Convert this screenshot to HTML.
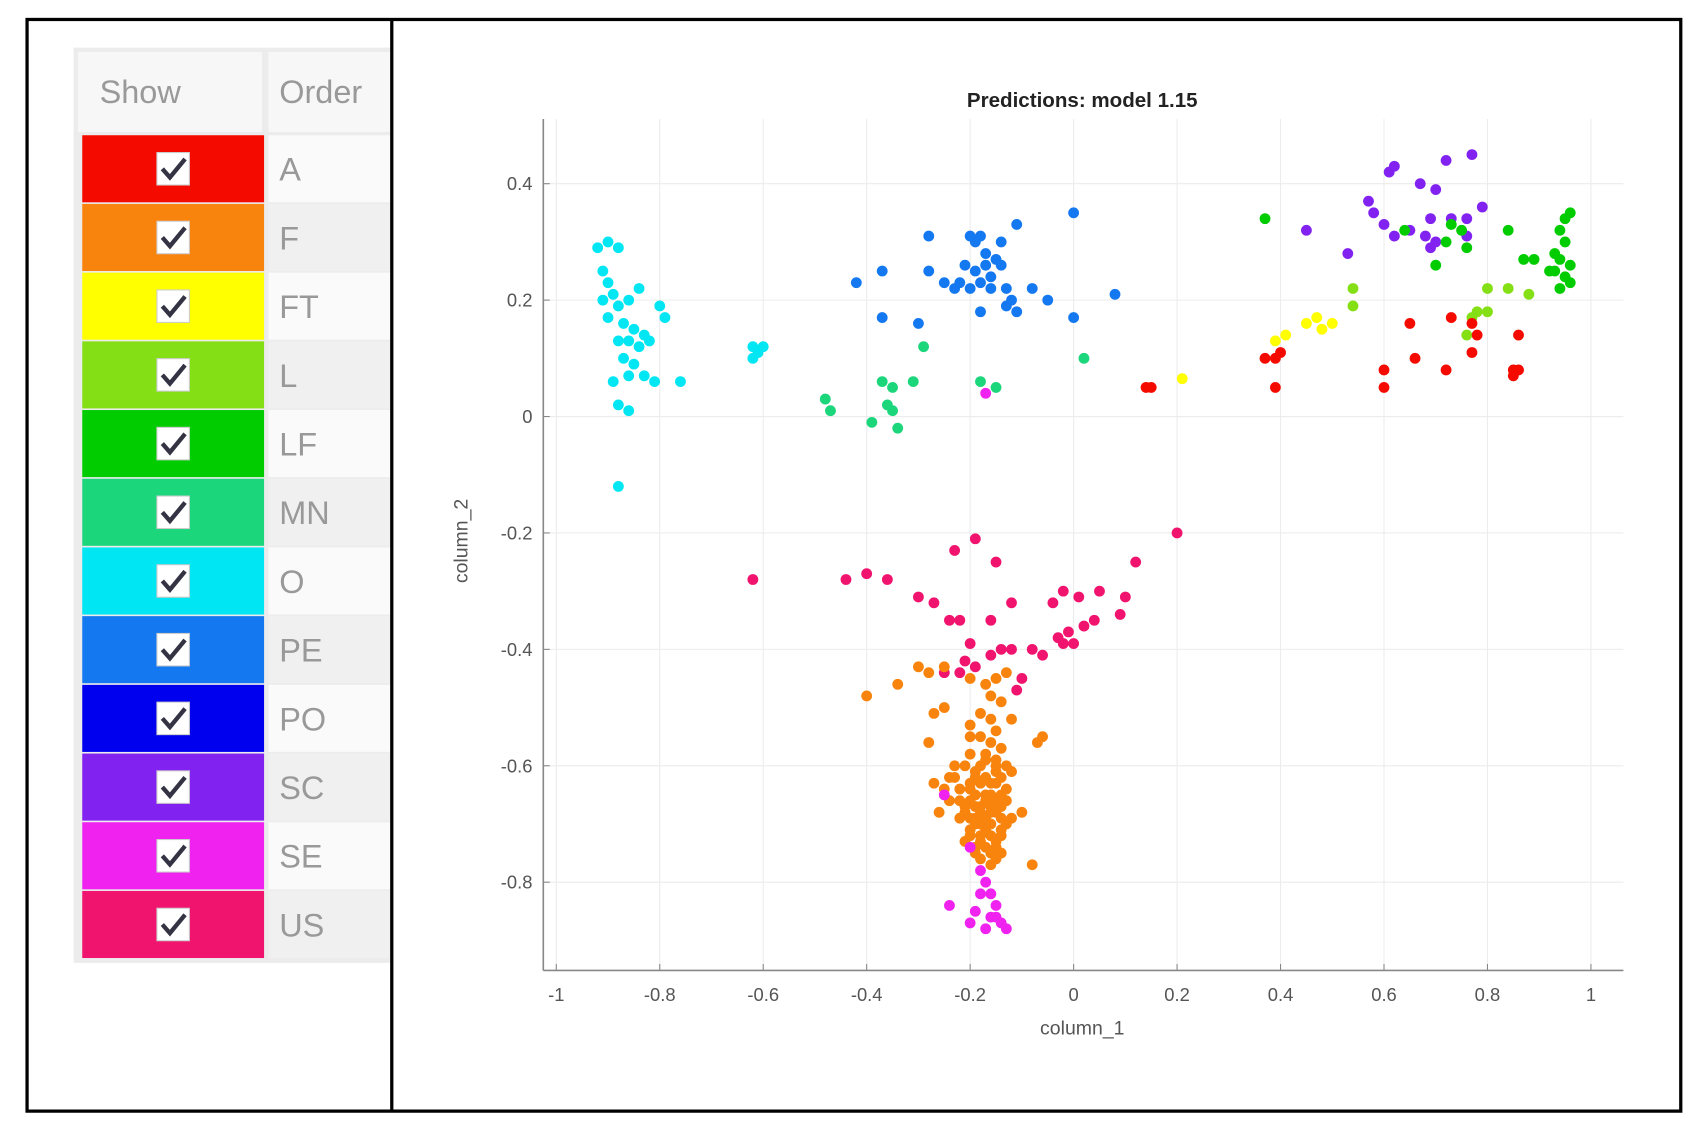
<!DOCTYPE html>
<html><head><meta charset="utf-8"><style>
html,body{margin:0;padding:0;background:#fff;}
svg{display:block;}
text{font-family:"Liberation Sans",sans-serif;}
</style></head><body>
<svg id="s" width="1697" height="1136" viewBox="0 0 1568 1050" preserveAspectRatio="none" xmlns="http://www.w3.org/2000/svg">
<rect x="0" y="0" width="1568" height="1050" fill="#fff"/>
<g id="table">
<rect x="68" y="44" width="294" height="846" fill="#ececec"/>
<rect x="72" y="48" width="170" height="74" fill="#f7f7f7"/>
<rect x="248" y="48" width="114" height="74" fill="#f7f7f7"/>
<text x="92" y="95" font-size="30" fill="#999">Show</text>
<text x="258" y="95" font-size="30" fill="#999">Order</text>
</g>
<rect x="362" y="40" width="4" height="860" fill="#fff"/>
<g id="plot"></g>
<rect x="25" y="18" width="1528" height="1009" fill="none" stroke="#000" stroke-width="3"/>
<line x1="362" y1="18" x2="362" y2="1027" stroke="#000" stroke-width="3"/>
</svg>
<script>
const classNames=["A","F","FT","L","LF","MN","O","PE","PO","SC","SE","US"];
const classColors=["#f50a00","#f8840e","#ffff00","#84e014","#00cc00","#1cd67c","#00e6f2","#1478f0","#0000ee","#8222f0","#f022f0","#f0146e"];
const xTicks=[-1,-0.8,-0.6,-0.4,-0.2,0,0.2,0.4,0.6,0.8,1];
const yTicks=[0.4,0.2,0,-0.2,-0.4,-0.6,-0.8];
const xTickLabels=["-1","-0.8","-0.6","-0.4","-0.2","0","0.2","0.4","0.6","0.8","1"];
const yTickLabels=["0.4","0.2","0","-0.2","-0.4","-0.6","-0.8"];
const ptsO=[[-0.92,0.29],[-0.9,0.3],[-0.88,0.29],[-0.91,0.25],[-0.9,0.23],[-0.89,0.21],[-0.91,0.2],[-0.88,0.19],[-0.86,0.2],[-0.84,0.22],[-0.87,0.16],[-0.85,0.15],[-0.83,0.14],[-0.8,0.19],[-0.79,0.17],[-0.86,0.13],[-0.84,0.12],[-0.82,0.13],[-0.88,0.13],[-0.87,0.1],[-0.89,0.06],[-0.86,0.07],[-0.83,0.07],[-0.81,0.06],[-0.76,0.06],[-0.88,0.02],[-0.86,0.01],[-0.88,-0.12],[-0.62,0.12],[-0.61,0.11],[-0.62,0.1],[-0.6,0.12],[-0.9,0.17],[-0.85,0.09]];
const ptsPE=[[-0.2,0.31],[-0.19,0.3],[-0.18,0.31],[-0.28,0.31],[-0.14,0.3],[-0.11,0.33],[0,0.35],[-0.21,0.26],[-0.19,0.25],[-0.17,0.26],[-0.16,0.24],[-0.15,0.27],[-0.22,0.23],[-0.2,0.22],[-0.18,0.23],[-0.23,0.22],[-0.16,0.22],[-0.13,0.22],[-0.28,0.25],[-0.25,0.23],[-0.42,0.23],[-0.37,0.25],[-0.08,0.22],[-0.12,0.2],[-0.05,0.2],[0.08,0.21],[-0.18,0.18],[-0.13,0.19],[-0.11,0.18],[-0.37,0.17],[-0.3,0.16],[0,0.17],[-0.14,0.26],[-0.17,0.28]];
const ptsA=[[0.14,0.05],[0.15,0.05],[0.37,0.1],[0.39,0.1],[0.4,0.11],[0.39,0.05],[0.6,0.05],[0.6,0.08],[0.66,0.1],[0.65,0.16],[0.72,0.08],[0.73,0.17],[0.77,0.11],[0.77,0.16],[0.78,0.14],[0.85,0.08],[0.85,0.07],[0.86,0.08],[0.86,0.14]];
const ptsSC=[[0.61,0.42],[0.62,0.43],[0.72,0.44],[0.77,0.45],[0.67,0.4],[0.7,0.39],[0.57,0.37],[0.58,0.35],[0.79,0.36],[0.6,0.33],[0.65,0.32],[0.69,0.34],[0.73,0.34],[0.76,0.34],[0.62,0.31],[0.68,0.31],[0.7,0.3],[0.69,0.29],[0.76,0.31],[0.45,0.32],[0.53,0.28]];
const ptsLF=[[0.37,0.34],[0.64,0.32],[0.73,0.33],[0.75,0.32],[0.72,0.3],[0.76,0.29],[0.84,0.32],[0.7,0.26],[0.87,0.27],[0.89,0.27],[0.93,0.28],[0.95,0.3],[0.96,0.35],[0.95,0.34],[0.94,0.32],[0.94,0.27],[0.93,0.25],[0.95,0.24],[0.96,0.23],[0.94,0.22],[0.92,0.25],[0.96,0.26]];
const ptsL=[[0.8,0.22],[0.84,0.22],[0.88,0.21],[0.78,0.18],[0.8,0.18],[0.77,0.17],[0.76,0.14],[0.54,0.22],[0.54,0.19]];
const ptsFT=[[0.39,0.13],[0.41,0.14],[0.45,0.16],[0.47,0.17],[0.48,0.15],[0.5,0.16],[0.21,0.065]];
const ptsMN=[[-0.29,0.12],[-0.37,0.06],[-0.35,0.05],[-0.31,0.06],[-0.36,0.02],[-0.35,0.01],[-0.48,0.03],[-0.47,0.01],[-0.39,-0.01],[-0.34,-0.02],[-0.18,0.06],[-0.15,0.05],[0.02,0.1]];
const ptsUS=[[0.2,-0.2],[-0.19,-0.21],[-0.23,-0.23],[-0.15,-0.25],[-0.62,-0.28],[-0.44,-0.28],[-0.4,-0.27],[-0.36,-0.28],[-0.3,-0.31],[-0.27,-0.32],[-0.24,-0.35],[-0.22,-0.35],[-0.16,-0.35],[-0.12,-0.32],[-0.04,-0.32],[-0.02,-0.3],[0.01,-0.31],[0.05,-0.3],[0.12,-0.25],[0.1,-0.31],[0.09,-0.34],[0.04,-0.35],[0.02,-0.36],[-0.01,-0.37],[-0.03,-0.38],[-0.02,-0.39],[-0.06,-0.41],[-0.08,-0.4],[-0.12,-0.4],[-0.14,-0.4],[-0.16,-0.41],[-0.2,-0.39],[-0.21,-0.42],[-0.19,-0.43],[-0.22,-0.44],[-0.1,-0.45],[-0.11,-0.47],[0.0,-0.39],[-0.25,-0.44]];
const ptsF=[[-0.3,-0.43],[-0.28,-0.44],[-0.25,-0.43],[-0.4,-0.48],[-0.34,-0.46],[-0.2,-0.45],[-0.17,-0.46],[-0.15,-0.45],[-0.13,-0.44],[-0.16,-0.48],[-0.14,-0.49],[-0.27,-0.51],[-0.25,-0.5],[-0.18,-0.51],[-0.2,-0.53],[-0.16,-0.52],[-0.12,-0.52],[-0.2,-0.55],[-0.16,-0.56],[-0.28,-0.56],[-0.06,-0.55],[-0.07,-0.56],[-0.17,-0.58],[-0.15,-0.59],[-0.21,-0.6],[-0.18,-0.6],[-0.15,-0.6],[-0.12,-0.61],[-0.23,-0.62],[-0.19,-0.62],[-0.16,-0.63],[-0.14,-0.62],[-0.27,-0.63],[-0.25,-0.64],[-0.22,-0.64],[-0.2,-0.64],[-0.17,-0.65],[-0.13,-0.64],[-0.24,-0.66],[-0.21,-0.67],[-0.18,-0.67],[-0.15,-0.66],[-0.26,-0.68],[-0.22,-0.69],[-0.19,-0.69],[-0.16,-0.68],[-0.12,-0.69],[-0.2,-0.71],[-0.17,-0.71],[-0.14,-0.71],[-0.21,-0.73],[-0.18,-0.73],[-0.15,-0.73],[-0.19,-0.75],[-0.16,-0.75],[-0.14,-0.75],[-0.1,-0.68],[-0.2,-0.58],[-0.15,-0.54],[-0.22,-0.66],[-0.18,-0.7],[-0.08,-0.77],
[-0.19,-0.61],[-0.17,-0.62],[-0.15,-0.61],[-0.13,-0.6],[-0.2,-0.63],[-0.18,-0.63],[-0.15,-0.63],[-0.19,-0.65],[-0.16,-0.65],[-0.14,-0.65],[-0.2,-0.66],[-0.17,-0.66],[-0.13,-0.66],[-0.19,-0.67],[-0.16,-0.67],[-0.14,-0.67],[-0.21,-0.68],[-0.18,-0.68],[-0.15,-0.68],[-0.2,-0.69],[-0.17,-0.69],[-0.14,-0.69],[-0.19,-0.7],[-0.16,-0.7],[-0.13,-0.7],[-0.2,-0.72],[-0.18,-0.72],[-0.16,-0.72],[-0.14,-0.72],[-0.19,-0.74],[-0.17,-0.74],[-0.15,-0.74],[-0.18,-0.76],[-0.15,-0.76],[-0.16,-0.77],[-0.17,-0.59],[-0.14,-0.57],[-0.18,-0.55],[-0.23,-0.6],[-0.24,-0.62]];
const ptsSE=[[-0.17,0.04],[-0.2,-0.74],[-0.18,-0.78],[-0.17,-0.8],[-0.16,-0.82],[-0.24,-0.84],[-0.19,-0.85],[-0.15,-0.84],[-0.2,-0.87],[-0.17,-0.88],[-0.14,-0.87],[-0.13,-0.88],[-0.16,-0.86],[-0.25,-0.65],[-0.18,-0.82],[-0.15,-0.86]];
const seriesList=[["O",ptsO],["PE",ptsPE],["SC",ptsSC],["LF",ptsLF],["L",ptsL],["FT",ptsFT],["A",ptsA],["MN",ptsMN],["US",ptsUS],["F",ptsF],["SE",ptsSE]];

const NS="http://www.w3.org/2000/svg";
function xs(v){return 992+v*478;}
function ys(v){return 385-v*538;}
function mk(tag,attrs,parent){const e=document.createElementNS(NS,tag);for(const k in attrs)e.setAttribute(k,attrs[k]);parent.appendChild(e);return e;}
const plot=document.getElementById('plot');
const table=document.getElementById('table');

classNames.forEach((n,i)=>{
  const y=125+i*63.5;
  const cell=mk('rect',{x:76,y:y,width:168,height:62,fill:classColors[i]},table);
  
  
  const ob=mk('rect',{x:248,y:y,width:114,height:62,fill:i%2?'#f0f0f0':'#fafafa'},table);
  
  
  const cb=mk('rect',{x:145,y:y+16,width:30,height:30,fill:'#fff',stroke:'#ccc','stroke-width':1},table);
  
  
  const ck=mk('path',{d:`M150 ${y+31} L157 ${y+39} L171 ${y+22}`,fill:'none',stroke:'#334','stroke-width':4},table);
  
  
  const t=mk('text',{x:258,y:y+42,'font-size':30,fill:'#999'},table);
  t.textContent=n;
  
  
});

xTicks.forEach(v=>{const l=mk('line',{x1:xs(v),x2:xs(v),y1:110,y2:897,stroke:'#ececec','stroke-width':1},plot);
  
  });
yTicks.forEach(v=>{const l=mk('line',{x1:502,x2:1500,y1:ys(v),y2:ys(v),stroke:'#ececec','stroke-width':1},plot);
  
  });
const ax=mk('line',{x1:502,x2:1500,y1:897,y2:897,stroke:'#888','stroke-width':1.5},plot);


const ay=mk('line',{x1:502,x2:502,y1:110,y2:897,stroke:'#888','stroke-width':1.5},plot);


xTicks.forEach((v,i)=>{
  mk('line',{x1:xs(v),x2:xs(v),y1:891,y2:897,stroke:'#888'},plot);
  const t=mk('text',{x:xs(v),y:925,'font-size':17,fill:'#555','text-anchor':'middle'},plot);
  t.textContent=xTickLabels[i];
  
  
});
yTicks.forEach((v,i)=>{
  mk('line',{x1:502,x2:508,y1:ys(v),y2:ys(v),stroke:'#888'},plot);
  const t=mk('text',{x:492,y:ys(v)+6,'font-size':17,fill:'#555','text-anchor':'end'},plot);
  t.textContent=yTickLabels[i];
  
  
});
const title=mk('text',{x:1000,y:99,'font-size':19,'font-weight':'bold',fill:'#222','text-anchor':'middle'},plot);
title.textContent='Predictions: model 1.15';


const xl=mk('text',{x:1000,y:956,'font-size':18,fill:'#555','text-anchor':'middle'},plot);
xl.textContent='column_1';


const yl=mk('text',{x:0,y:0,'font-size':18,fill:'#555','text-anchor':'middle',transform:'translate(432,500) rotate(-90)'},plot);
yl.textContent='column_2';



seriesList.forEach(([n,pts])=>{
  const col=classColors[classNames.indexOf(n)];
  pts.forEach(p=>{
    const c=mk('circle',{cx:xs(p[0]),cy:ys(p[1]),r:5,fill:col},plot);
    
    
  });
});
</script>
</body></html>
